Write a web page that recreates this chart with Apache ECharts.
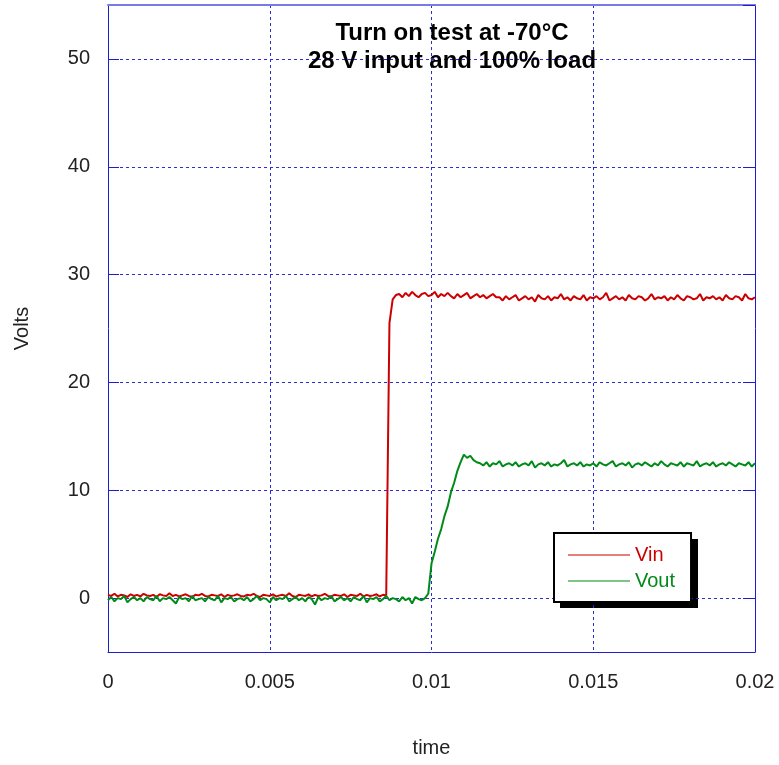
<!DOCTYPE html>
<html>
<head>
    <meta charset="utf-8">
    <title>Turn on test</title>
    <script src="https://cdn.jsdelivr.net/npm/echarts@6/dist/echarts.min.js"></script>
</head>
<body style="margin:0;padding:0;">
<div id="main" style="margin:0px;padding:0px;width:779px;height:765px;"></div>
<script type="text/javascript">
    // scope samples, one every sampleStep seconds starting at t = 0
    var sampleStep = 0.0001;

    // Vin (volts)
    var vinVolts = [
        0.3,0.2,0.4,0.15,0.3,0.25,0.1,0.35,0.2,0.3,
        0.15,0.4,0.25,0.2,0.3,0.1,0.35,0.25,0.2,0.45,
        0.2,0.3,0.15,0.25,0.35,0.2,0.1,0.3,0.25,0.4,
        0.2,0.15,0.3,0.25,0.2,0.35,0.1,0.3,0.2,0.25,
        0.35,0.2,0.15,0.3,0.25,0.4,0.2,0.1,0.3,0.25,
        0.2,0.35,0.15,0.25,0.3,0.2,0.45,0.2,0.1,0.3,
        0.25,0.2,0.35,0.15,0.3,0.2,0.25,0.4,0.2,0.15,
        0.3,0.25,0.2,0.35,0.1,0.3,0.25,0.2,0.4,0.15,
        0.3,0.2,0.25,0.35,0.15,0.3,0.25,
        25.5,27.7,28.1,
        28.2,27.9,28.3,28.0,28.4,28.1,27.9,28.2,28.3,28.0,28.1,28.4,27.9,28.2,28.0,28.3,
        28.0,27.8,28.2,27.9,28.1,28.3,27.8,28.0,28.2,27.9,28.1,27.8,28.0,28.2,27.9,
        27.9,27.6,28.0,27.7,27.9,28.1,27.6,27.8,28.0,27.7,
        27.9,27.5,28.1,27.8,27.7,28.0,27.6,27.9,27.8,28.2,
        27.7,27.9,27.6,28.0,27.8,27.7,28.1,27.6,27.9,27.8,
        28.0,27.7,27.9,28.3,27.6,27.8,28.0,27.7,27.9,27.6,
        28.1,27.8,27.7,28.0,27.9,27.6,27.8,28.2,27.7,27.9,
        27.8,28.0,27.6,27.9,27.7,28.1,27.8,27.6,28.0,27.9,
        27.7,27.8,28.2,27.6,27.9,27.8,28.0,27.7,27.9,27.6,
        28.1,27.8,27.7,28.0,27.9,27.6,28.2,27.8,27.7,27.9
    ];

    // Vout (volts)
    var voutVolts = [
        -0.2,0.1,-0.3,0.0,-0.1,0.2,-0.4,-0.1,0.1,-0.2,
        0.0,-0.3,0.1,-0.1,-0.2,0.2,-0.3,0.0,-0.1,0.1,
        -0.2,-0.5,0.1,-0.1,0.0,-0.3,0.2,-0.2,-0.1,0.0,
        -0.3,0.1,-0.1,-0.2,0.2,-0.4,0.0,-0.1,0.1,-0.3,
        -0.1,0.0,-0.2,0.1,-0.3,-0.1,0.2,-0.2,0.0,-0.1,
        -0.4,0.1,-0.2,0.0,-0.1,0.2,-0.3,-0.1,0.1,-0.2,
        0.0,-0.3,0.1,-0.1,-0.6,0.1,-0.2,0.0,-0.1,0.2,
        -0.3,-0.1,0.1,-0.2,0.0,-0.3,0.1,-0.1,-0.2,0.2,
        -0.4,0.0,-0.1,0.1,-0.3,-0.1,0.2,-0.2,0.0,-0.1,
        -0.3,0.1,-0.2,0.0,-0.5,0.1,-0.1,-0.2,0.0,
        0.4,3.2,4.3,5.5,6.4,7.6,8.5,9.8,10.7,11.8,12.6,13.3,13.0,13.2,12.8,12.6,12.5,
        12.3,12.6,12.2,12.5,12.4,12.7,12.2,12.4,12.5,12.3,
        12.6,12.2,12.4,12.5,12.3,12.7,12.1,12.4,12.5,12.3,
        12.6,12.2,12.4,12.3,12.5,12.8,12.2,12.4,12.5,12.3,
        12.6,12.2,12.4,12.3,12.5,12.2,12.6,12.4,12.3,12.5,
        12.7,12.2,12.4,12.5,12.3,12.6,12.1,12.4,12.5,12.3,
        12.6,12.4,12.2,12.5,12.3,12.7,12.4,12.2,12.5,12.4,
        12.3,12.6,12.2,12.5,12.4,12.3,12.7,12.2,12.4,12.5,
        12.3,12.6,12.2,12.4,12.5,12.3,12.6,12.4,12.2,12.5,
        12.4,12.3,12.6,12.2,12.5
    ];

    var seriesNames = ['Vin', 'Vout'];
    var seriesColors = ['#cc0000', '#008a18'];

    function toPairs(values) {
        var out = [];
        for (var i = 0; i < values.length; i++) {
            out.push([+(i * sampleStep).toFixed(5), values[i]]);
        }
        return out;
    }

    var gridBlue = '#2a2ad8';
    var axisBlue = '#1c1cd4';
    var font = 'Liberation Sans, Arial, sans-serif';

    var myChart = echarts.init(document.getElementById('main'));

    var option = {
        backgroundColor: '#ffffff',
        animation: false,
        textStyle: { fontFamily: font },
        title: {
            text: 'Turn on test at -70°C\n28 V input and 100% load',
            left: 447,
            top: 15,
            textAlign: 'center',
            textStyle: { fontFamily: font, fontSize: 24, fontWeight: 'bold', color: '#000', lineHeight: 27.5 }
        },
        grid: {
            left: 108, right: 24, top: 5, bottom: 113,
            outerBoundsMode: 'none',
            containLabel: false,
            show: false
        },
        // drop shadow behind the legend box
        graphic: [{
            type: 'rect',
            z: 0,
            shape: { x: 560, y: 539, width: 138, height: 69 },
            style: { fill: '#000' }
        }],
        legend: {
            orient: 'vertical',
            left: 554,
            top: 533,
            padding: [12, 16, 11, 14],
            itemGap: 6,
            itemWidth: 62,
            itemHeight: 1.2,
            icon: 'rect',
            backgroundColor: '#fff',
            borderColor: '#000',
            borderWidth: 2,
            borderRadius: 0,
            textStyle: { fontFamily: font, fontSize: 20 },
            data: [
                { name: seriesNames[0], textStyle: { color: seriesColors[0] } },
                { name: seriesNames[1], textStyle: { color: seriesColors[1] } }
            ]
        },
        xAxis: [{
            type: 'value',
            min: 0,
            max: 0.02,
            interval: 0.005,
            name: 'time',
            nameLocation: 'middle',
            nameGap: 86,
            nameTextStyle: { fontFamily: font, fontSize: 20, color: '#222' },
            axisLine: { show: true, onZero: false, lineStyle: { color: axisBlue } },
            axisTick: { show: false },
            axisLabel: { margin: 20, fontFamily: font, fontSize: 20, color: '#222' },
            splitLine: { show: true, lineStyle: { color: gridBlue, type: [3, 3], width: 1 } }
        }, {
            type: 'value',
            position: 'top',
            min: 0,
            max: 0.02,
            interval: 0.005,
            axisLine: { show: true, onZero: false, lineStyle: { color: '#7a7ae6', width: 2 } },
            axisTick: { show: false },
            axisLabel: { show: false },
            splitLine: { show: false }
        }],
        yAxis: [{
            type: 'value',
            min: -5,
            max: 55,
            splitNumber: 6,
            name: 'Volts',
            nameLocation: 'middle',
            nameGap: 76,
            nameRotate: 90,
            nameTextStyle: { fontFamily: font, fontSize: 20, color: '#222' },
            axisLine: { show: true, onZero: false, lineStyle: { color: axisBlue } },
            axisTick: { show: true, inside: true, length: 11, lineStyle: { color: axisBlue } },
            axisLabel: { margin: 18, fontFamily: font, fontSize: 20, color: '#222', showMinLabel: false, showMaxLabel: false },
            splitLine: { show: true, lineStyle: { color: gridBlue, type: [3, 3], width: 1 } }
        }, {
            type: 'value',
            position: 'right',
            min: -5,
            max: 55,
            splitNumber: 6,
            axisLine: { show: true, onZero: false, lineStyle: { color: axisBlue } },
            axisTick: { show: true, inside: true, length: 12, lineStyle: { color: axisBlue } },
            axisLabel: { show: false },
            splitLine: { show: false }
        }],
        series: [
            {
                name: seriesNames[0],
                type: 'line',
                symbol: 'none',
                data: toPairs(vinVolts),
                lineStyle: { color: seriesColors[0], width: 2 },
                itemStyle: { color: seriesColors[0] }
            },
            {
                name: seriesNames[1],
                type: 'line',
                symbol: 'none',
                data: toPairs(voutVolts),
                lineStyle: { color: seriesColors[1], width: 2 },
                itemStyle: { color: seriesColors[1] }
            }
        ]
    };

    myChart.setOption(option);
</script>
</body>
</html>
